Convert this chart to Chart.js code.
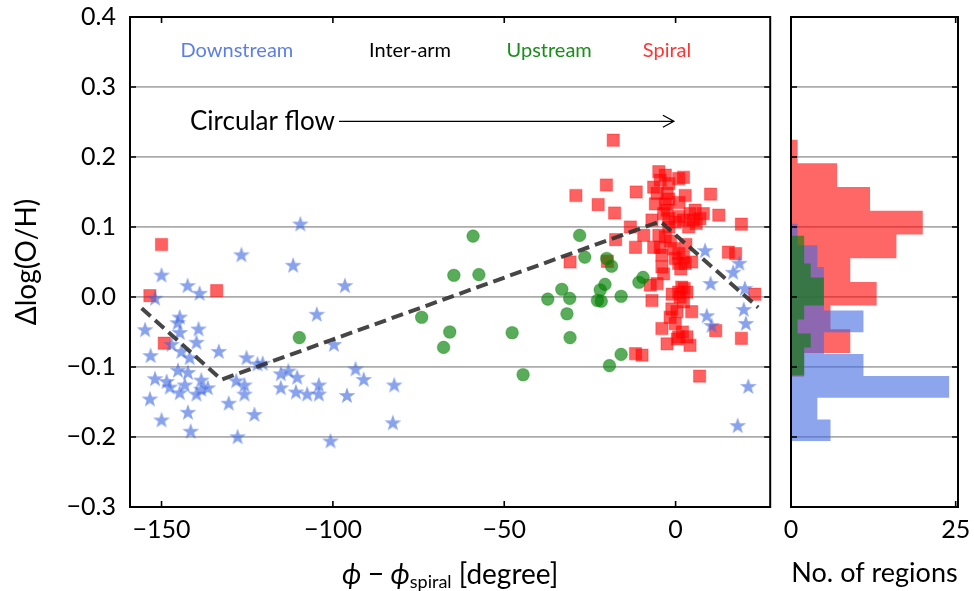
<!DOCTYPE html>
<html>
<head>
<meta charset="utf-8">
<script src="https://cdn.jsdelivr.net/npm/chart.js@4.4.0/dist/chart.umd.min.js"></script>
<style>
  html, body { margin: 0; padding: 0; background: #fff; }
  #wrap { position: relative; width: 974px; height: 591px; }
  canvas { position: absolute; top: 0; }
  #mainChart { left: 0; }
  #histChart { left: 780px; }
</style>
</head>
<body>
<div id="wrap">
  <canvas id="mainChart" width="780" height="591"></canvas>
  <canvas id="histChart" width="194" height="591"></canvas>
</div>
<script>
// ---- data ----

// downstream regions (stars)
var downX = [-109.5, -126.7, -111.6, -150.0, -142.4, -138.9, -151.9, -96.5, -104.7, -144.7,
  -145.3, -154.8, -139.2, -144.7, -139.8, -147.1, -133.3, -153.2, -144.2, -141.8,
  -125.2, -99.7, -122.0, -120.5, -145.2, -142.3, -115.2, -113.0, -151.9, -148.5,
  -138.4, -128.2, -110.4, -147.6, -144.7, -143.2, -139.8, -138.4, -136.5, -125.8,
  -125.8, -115.2, -110.8, -107.5, -104.1, -104.1, -95.9, -153.4, -130.4, -142.3,
  -122.9, -150.0, -141.5, -127.8, -100.7, -93.4, -91.0, -82.1, -82.5,
  8.6, 18.6, 16.8, 10.2, 20.2, 9.1, 10.5, 19.9, 20.5, 21.2, 18.1];
var downY = [0.105, 0.061, 0.046, 0.032, 0.017, 0.006, -0.001, 0.017, -0.024, -0.028,
  -0.036, -0.046, -0.045, -0.050, -0.064, -0.067, -0.077, -0.083, -0.077, -0.086,
  -0.086, -0.067, -0.095, -0.094, -0.104, -0.107, -0.109, -0.105, -0.116, -0.120,
  -0.118, -0.119, -0.114, -0.128, -0.136, -0.125, -0.138, -0.131, -0.129, -0.125,
  -0.138, -0.129, -0.135, -0.138, -0.125, -0.138, -0.140, -0.145, -0.151, -0.164,
  -0.167, -0.175, -0.191, -0.199, -0.205, -0.102, -0.117, -0.125, -0.179,
  0.067, 0.049, 0.036, 0.020, 0.013, -0.026, -0.040, -0.017, -0.037, -0.127, -0.183];

// upstream regions (circles)
var upX = [-109.8, -59.1, -64.7, -57.4, -74.1, -65.9, -67.7, -47.7, -44.5, -37.3,
  -28.0, -26.5, -20.1, -18.7, -33.2, -30.9, -20.6, -22.0, -22.8, -21.7,
  -15.9, -31.7, -30.8, -15.9, -19.3, -10.7, -9.5];
var upY = [-0.058, 0.087, 0.031, 0.032, -0.029, -0.050, -0.072, -0.051, -0.111, -0.003,
  0.088, 0.057, 0.055, 0.044, 0.011, -0.002, 0.018, 0.010, -0.005, -0.006,
  0.001, -0.024, -0.058, -0.082, -0.098, 0.021, 0.028];

// spiral regions (squares)
var spiralX = [-150.0, -153.4, -133.9, -149.2,
  -18.2, -29.1, -20.2, -22.6, -17.8, -17.5, -30.8, -19.9,
  -4.9, -3.0, -4.5, -2.0, 0.9, 2.3, -6.4, -11.5, -5.4, -2.5, 2.8, 10.2, -5.9, -3.0,
  -2.5, -3.5, -2.0, -0.1, 4.2, 5.7, 8.1, 12.6, -6.9, 2.3, 5.2, 3.8, 7.1, -13.2,
  -9.3, -4.9, -3.0, -11.7, -6.4, -4.5, -0.6, 0.9, 2.3, -0.1, 2.8, 4.7, 0.9, -4.0,
  -3.5, -7.4, -5.4, 1.8, 3.3, 0.9, -6.9, 1.3, 2.3, -1.1, 0.4, 4.7, -1.6, -0.1,
  -4.0, -2.5, 0.9, 3.3, 4.2, 11.7, -11.7, -9.8, 7.0,
  15.4, 17.5, 19.2, 23.1, 19.2,
  0.5, 2.0, 2.5, -1.0, 1.5, -1.5, 3.0, -4.0, 1.0, -2.0, 6.0, -2.0, 1.0];
var spiralY = [0.075, 0.002, 0.009, -0.066,
  0.224, 0.145, 0.160, 0.132, 0.120, 0.082, 0.050, 0.051,
  0.179, 0.174, 0.167, 0.162, 0.169, 0.171, 0.157, 0.150, 0.148, 0.148, 0.145, 0.147, 0.133, 0.133,
  0.124, 0.119, 0.112, 0.107, 0.119, 0.124, 0.119, 0.117, 0.110, 0.110, 0.110, 0.100, 0.112, 0.100,
  0.088, 0.088, 0.086, 0.071, 0.071, 0.071, 0.069, 0.062, 0.057, 0.055, 0.048, 0.050, 0.048, 0.043,
  0.033, 0.017, 0.019, 0.014, 0.007, 0.007, -0.005, 0.000, -0.007, -0.017, -0.021, -0.021, -0.029, -0.038,
  -0.045, -0.067, -0.057, -0.057, -0.069, -0.048, -0.081, -0.083, -0.113,
  0.064, 0.062, 0.104, 0.004, -0.059,
  -0.060, -0.050, 0.012, 0.004, 0.040, 0.080, 0.075, 0.060, 0.115, 0.100, 0.105, 0.140, 0.135];

// broken-line model (dashed)
var modelX = [-155.8, -132.5, -4.5, 24.1];
var modelY = [-0.016, -0.118, 0.108, -0.015];

// histograms: first bin edge, bin width, counts from bottom to top
var spiralBinStart = -0.114, spiralBinWidth = 0.0339;
var spiralCounts = [2, 9, 6, 13, 9, 16, 20, 12, 7, 1];
var downBinStart = -0.206, downBinWidth = 0.0311;
var downCounts = [6, 4, 24, 11, 5, 11, 5, 5, 4, 1];
var upBinStart = -0.112, upBinWidth = 0.020;
var upCounts = [2, 2, 3, 1, 2, 5, 5, 3, 2, 2];

// ticks
var xTicks = [-150, -100, -50, 0];
var yTicks = [-0.3, -0.2, -0.1, 0.0, 0.1, 0.2, 0.3, 0.4];
var histTicks = [0, 25];

var groupNames = ['Downstream', 'Inter-arm', 'Upstream', 'Spiral'];

// ---- helpers ----
var FONT = 'Lato';
Chart.defaults.font.family = FONT;
Chart.defaults.font.size = 25;
Chart.defaults.color = '#000';

function fmt(v, d) {
  var s = Math.abs(v).toFixed(d);
  return (v < -1e-9 ? '\u2212' : '') + s;
}

function pairs(xs, ys) {
  return xs.map(function (x, i) { return { x: x, y: ys[i] }; });
}

function steps(start, width, counts) {
  var pts = [{ x: 0, y: start }];
  counts.forEach(function (c, i) {
    pts.push({ x: c, y: start + i * width });
    pts.push({ x: c, y: start + (i + 1) * width });
  });
  pts.push({ x: 0, y: start + counts.length * width });
  return pts;
}

function starImage(r, fill) {
  var c = document.createElement('canvas');
  var s = Math.ceil(r * 2 + 2);
  c.width = c.height = s;
  var g = c.getContext('2d');
  g.beginPath();
  for (var i = 0; i < 10; i++) {
    var rad = i % 2 ? r * 0.4 : r;
    var a = -Math.PI / 2 + i * Math.PI / 5;
    g.lineTo(s / 2 + rad * Math.cos(a), s / 2 + 1 + rad * Math.sin(a));
  }
  g.closePath();
  g.fillStyle = fill;
  g.fill();
  return c;
}

function setTicks(list) {
  return function (scale) {
    scale.ticks = list.map(function (v) { return { value: v }; });
  };
}

function fixX(h) {
  return function (s) { s.height = h; s.paddingLeft = 0; s.paddingRight = 0; };
}
function fixY(w) {
  return function (s) { s.width = w; s.paddingTop = 0; s.paddingBottom = 0; };
}

function gridColor(ctx) {
  if (!ctx.tick) return 'rgba(0,0,0,0)';
  var v = ctx.tick.value;
  return (v < -0.299 || v > 0.399) ? 'rgba(0,0,0,0)' : '#ababab';
}

// frame + inward tick marks on all four sides
var frame = {
  id: 'frame',
  afterDraw: function (chart) {
    var a = chart.chartArea, ctx = chart.ctx;
    var sx = chart.scales.x, sy = chart.scales.y;
    ctx.save();
    ctx.strokeStyle = '#000';
    ctx.lineWidth = 1.6;
    ctx.beginPath();
    sx.ticks.forEach(function (t) {
      var px = sx.getPixelForValue(t.value);
      ctx.moveTo(px, a.bottom); ctx.lineTo(px, a.bottom - 6);
      ctx.moveTo(px, a.top); ctx.lineTo(px, a.top + 6);
    });
    sy.ticks.forEach(function (t) {
      var py = sy.getPixelForValue(t.value);
      ctx.moveTo(a.left, py); ctx.lineTo(a.left + 6, py);
      ctx.moveTo(a.right, py); ctx.lineTo(a.right - 6, py);
    });
    ctx.stroke();
    ctx.lineWidth = 2;
    ctx.strokeRect(a.left, a.top, a.right - a.left, a.bottom - a.top);
    ctx.restore();
  }
};

// labels, arrow and axis titles of the main panel
var mainText = {
  id: 'mainText',
  afterDraw: function (chart) {
    var ctx = chart.ctx, a = chart.chartArea;
    var sx = chart.scales.x, sy = chart.scales.y;
    ctx.save();
    ctx.textBaseline = 'middle';

    var labelX = [-128.0, -77.5, -36.9, -2.5];
    var labelColor = ['rgba(65,105,225,0.85)', '#000', 'rgba(0,128,0,0.9)', 'rgba(255,0,0,0.8)'];
    ctx.font = '20px ' + FONT;
    ctx.textAlign = 'center';
    groupNames.forEach(function (n, i) {
      ctx.fillStyle = labelColor[i];
      ctx.fillText(n, sx.getPixelForValue(labelX[i]), sy.getPixelForValue(0.352));
    });

    // circular flow arrow
    var ay = sy.getPixelForValue(0.251);
    ctx.font = '26px ' + FONT;
    ctx.textAlign = 'left';
    ctx.fillStyle = '#000';
    ctx.fillText('Circular flow', sx.getPixelForValue(-141.7), ay);
    var x0 = sx.getPixelForValue(-98.2), x1 = sx.getPixelForValue(-0.5);
    ctx.strokeStyle = '#000';
    ctx.lineWidth = 1.3;
    ctx.beginPath();
    ctx.moveTo(x0, ay); ctx.lineTo(x1, ay);
    ctx.moveTo(x1 - 11, ay - 6); ctx.lineTo(x1, ay); ctx.lineTo(x1 - 11, ay + 6);
    ctx.stroke();

    // y title
    ctx.save();
    ctx.translate(27, (a.top + a.bottom) / 2);
    ctx.rotate(-Math.PI / 2);
    ctx.textAlign = 'center';
    ctx.font = '28px ' + FONT;
    ctx.fillText('\u0394log(O/H)', 0, 0);
    ctx.restore();

    // x title with subscript
    var parts = [
      { t: '\u03D5 \u2212 \u03D5', f: 'italic 28px ' + FONT, dy: 0 },
      { t: 'spiral', f: '18px ' + FONT, dy: 7 },
      { t: ' [degree]', f: '28px ' + FONT, dy: 0 }
    ];
    var total = 0;
    parts.forEach(function (p) { ctx.font = p.f; p.w = ctx.measureText(p.t).width; total += p.w; });
    var x = (a.left + a.right) / 2 - total / 2, ty = 575;
    ctx.textAlign = 'left';
    parts.forEach(function (p) {
      ctx.font = p.f;
      ctx.fillText(p.t, x, ty + p.dy);
      x += p.w;
    });
    ctx.restore();
  }
};

var histText = {
  id: 'histText',
  afterDraw: function (chart) {
    var ctx = chart.ctx, a = chart.chartArea;
    ctx.save();
    ctx.font = '27px ' + FONT;
    ctx.textAlign = 'center';
    ctx.textBaseline = 'middle';
    ctx.fillStyle = '#000';
    ctx.fillText('No. of regions', (a.left + a.right) / 2, 573);
    ctx.restore();
  }
};

// ---- main scatter panel ----
new Chart(document.getElementById('mainChart'), {
  type: 'scatter',
  data: {
    datasets: [
      {
        label: 'model',
        data: pairs(modelX, modelY),
        showLine: true,
        borderColor: 'rgba(50,50,50,0.9)',
        borderWidth: 4,
        borderDash: [12, 6],
        pointRadius: 0,
        order: 0
      },
      {
        label: 'Downstream',
        data: pairs(downX, downY),
        pointStyle: starImage(8.8, 'rgba(65,105,225,0.62)'),
        pointRadius: 8,
        order: 1
      },
      {
        label: 'Upstream',
        data: pairs(upX, upY),
        pointStyle: 'circle',
        pointRadius: 6.3,
        backgroundColor: 'rgba(0,128,0,0.65)',
        borderColor: 'rgba(0,128,0,0.3)',
        borderWidth: 1.2,
        order: 2
      },
      {
        label: 'Spiral',
        data: pairs(spiralX, spiralY),
        pointStyle: 'rect',
        pointRadius: 8.6,
        backgroundColor: 'rgba(255,0,0,0.62)',
        borderColor: 'rgba(255,0,0,0.3)',
        borderWidth: 1.2,
        order: 3
      }
    ]
  },
  options: {
    responsive: false,
    animation: false,
    devicePixelRatio: 1,
    layout: { padding: { top: 17, right: 6, left: 0, bottom: 0 } },
    plugins: { legend: { display: false }, tooltip: { enabled: false } },
    scales: {
      x: {
        type: 'linear',
        min: -159.2,
        max: 27.6,
        afterBuildTicks: setTicks(xTicks),
        afterFit: fixX(84),
        grid: { display: false, drawTicks: false },
        border: { display: false },
        ticks: { padding: 8, callback: function (v) { return fmt(v, 0); } }
      },
      y: {
        type: 'linear',
        min: -0.3,
        max: 0.4,
        afterBuildTicks: setTicks(yTicks),
        afterFit: fixY(130),
        grid: { color: gridColor, lineWidth: 1.8, drawTicks: false },
        border: { display: false },
        ticks: { padding: 14, callback: function (v) { return fmt(v, 1); } }
      }
    }
  },
  plugins: [frame, mainText]
});

// ---- histogram panel ----
new Chart(document.getElementById('histChart'), {
  type: 'line',
  data: {
    datasets: [
      {
        label: 'Spiral',
        data: steps(spiralBinStart, spiralBinWidth, spiralCounts),
        backgroundColor: 'rgba(255,0,0,0.6)',
        fill: 'origin',
        order: 3
      },
      {
        label: 'Downstream',
        data: steps(downBinStart, downBinWidth, downCounts),
        backgroundColor: 'rgba(65,105,225,0.6)',
        fill: 'origin',
        order: 2
      },
      {
        label: 'Upstream',
        data: steps(upBinStart, upBinWidth, upCounts),
        backgroundColor: 'rgba(0,128,0,0.6)',
        fill: 'origin',
        order: 1
      }
    ]
  },
  options: {
    indexAxis: 'y',
    responsive: false,
    animation: false,
    devicePixelRatio: 1,
    layout: { padding: { top: 17, right: 16, left: 0, bottom: 0 } },
    elements: { line: { borderWidth: 0, borderColor: 'rgba(0,0,0,0)', tension: 0 }, point: { radius: 0 } },
    plugins: { legend: { display: false }, tooltip: { enabled: false } },
    scales: {
      x: {
        type: 'linear',
        min: 0,
        max: 25.35,
        afterBuildTicks: setTicks(histTicks),
        afterFit: fixX(84),
        grid: { display: false, drawTicks: false },
        border: { display: false },
        ticks: { padding: 8, callback: function (v) { return fmt(v, 0); } }
      },
      y: {
        type: 'linear',
        min: -0.3,
        max: 0.4,
        afterBuildTicks: setTicks(yTicks),
        afterFit: fixY(11),
        grid: { color: gridColor, lineWidth: 1.8, drawTicks: false },
        border: { display: false },
        ticks: { display: false }
      }
    }
  },
  plugins: [frame, histText]
});
</script>
</body>
</html>
